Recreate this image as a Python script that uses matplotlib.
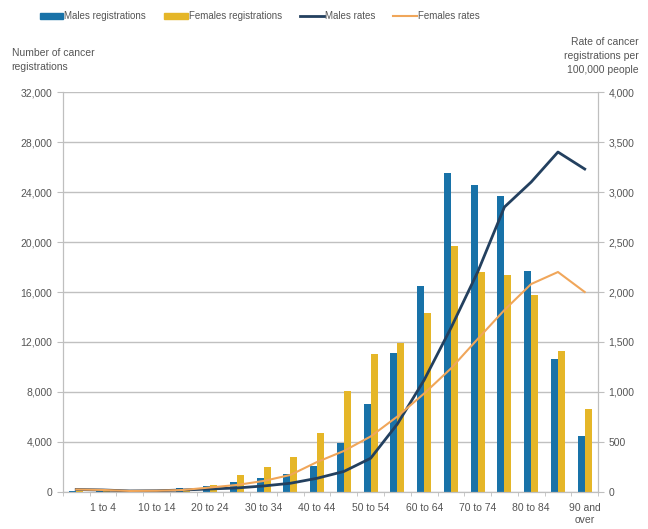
import numpy as np
import matplotlib
matplotlib.use("Agg")
import matplotlib.pyplot as plt
from matplotlib.lines import Line2D
from matplotlib.patches import Patch

plt.rcParams['font.family'] = ['Liberation Sans', 'DejaVu Sans']

ages = ["Under 1", "1 to 4", "5 to 9", "10 to 14", "15 to 19", "20 to 24",
        "25 to 29", "30 to 34", "35 to 39", "40 to 44", "45 to 49", "50 to 54",
        "55 to 59", "60 to 64", "65 to 69", "70 to 74", "75 to 79", "80 to 84",
        "85 to 89", "90 and\nover"]
males_reg = [80, 180, 110, 130, 280, 480, 820, 1140, 1440, 2080, 3950, 7000,
             11100, 16500, 25500, 24600, 23700, 17700, 10600, 4500]
females_reg = [70, 150, 90, 120, 230, 560, 1360, 1960, 2800, 4750, 8100, 11000,
               11900, 14300, 19700, 17600, 17400, 15800, 11300, 6600]
males_rate = [25, 20, 10, 12, 20, 30, 40, 60, 87, 137, 205, 337,
              680, 1120, 1640, 2200, 2850, 3100, 3400, 3230]
females_rate = [25, 20, 10, 12, 20, 45, 70, 110, 170, 300, 410, 555,
                755, 985, 1235, 1530, 1820, 2080, 2200, 2000]

blue = "#1872a8"
yellow = "#e5b628"
navy = "#23405f"
orange = "#f0a65a"
grey = "#bfbfbf"
txt = "#555555"

x = np.arange(len(ages))
fig = plt.figure(figsize=(6.48, 5.29), dpi=100)
ax = fig.add_axes([0.097, 0.070, 0.826, 0.756])
w = 0.26
ax.bar(x - w / 2, males_reg, w, color=blue, zorder=2)
ax.bar(x + w / 2, females_reg, w, color=yellow, zorder=2)
ax.set_xlim(-0.5, len(ages) - 0.5)
ax.set_ylim(0, 32000)
ax.set_yticks(np.arange(0, 32001, 4000))
ax.set_yticklabels([f"{v:,}" for v in range(0, 32001, 4000)])
ax.yaxis.grid(True, color="#c0c0c0", lw=1)
ax.set_axisbelow(True)

ax.set_xticks(x)
ax.set_xticklabels([a if i % 2 == 1 else "" for i, a in enumerate(ages)])
ax.set_xticks(np.arange(-0.5, len(ages), 1), minor=True)
ax.tick_params(axis="x", which="major", length=0, labelsize=7.5, colors=txt, pad=8)
ax.tick_params(axis="x", which="minor", length=3, color=grey)
ax.tick_params(axis="y", length=4, color=grey, labelsize=7.5, colors=txt)
ax.spines["top"].set_visible(False)
for s in ["left", "right", "bottom"]:
    ax.spines[s].set_color(grey)

ax2 = ax.twinx()
ax2.plot(x, males_rate, color=navy, lw=2, zorder=3)
ax2.plot(x, females_rate, color=orange, lw=1.5, zorder=3)
ax2.set_ylim(0, 4000)
ax2.set_yticks(np.arange(0, 4001, 500))
ax2.set_yticklabels([f"{v:,}" for v in range(0, 4001, 500)])
ax2.tick_params(axis="y", length=4, color=grey, labelsize=7.5, colors=txt)
ax2.spines["top"].set_visible(False)
for s in ["left", "right", "bottom"]:
    ax2.spines[s].set_color(grey)

fig.text(0.018, 0.91, "Number of cancer\nregistrations", fontsize=7.5, color=txt,
         ha="left", va="top", linespacing=1.5)
fig.text(0.985, 0.93, "Rate of cancer\nregistrations per\n100,000 people", fontsize=7.5,
         color=txt, ha="right", va="top", linespacing=1.5)

handles = [Patch(color=blue), Patch(color=yellow),
           Line2D([], [], color=navy, lw=2), Line2D([], [], color=orange, lw=1.5)]
labels = ["Males registrations", "Females registrations", "Males rates", "Females rates"]
fig.legend(handles, labels, loc="upper left", bbox_to_anchor=(0.048, 0.995), ncol=4,
           frameon=False, fontsize=7, labelcolor=txt, handlelength=2.4,
           handleheight=0.5, handletextpad=0.1, columnspacing=1.9)

fig.savefig("out.png", dpi=100)
